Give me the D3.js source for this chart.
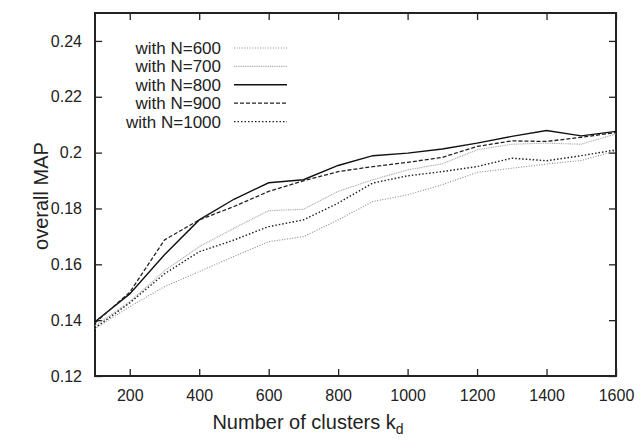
<!DOCTYPE html>
<html>
<head>
<meta charset="utf-8">
<script src="https://cdn.jsdelivr.net/npm/d3@7"></script>
<style>
  body { margin: 0; background: #fff; }
  text { font-family: "Liberation Sans", Arial, sans-serif; fill: #222; }
</style>
</head>
<body>
<div id="chart"></div>
<script>
// Data
const clusters = [100, 200, 300, 400, 500, 600, 700, 800, 900, 1000, 1100, 1200, 1300, 1400, 1500, 1600];
const seriesNames = ['with N=600', 'with N=700', 'with N=800', 'with N=900', 'with N=1000'];
const mapN600 = [0.1370, 0.1448, 0.1520, 0.1574, 0.1628, 0.1681, 0.1699, 0.1759, 0.1825, 0.1849, 0.1885, 0.1929, 0.1944, 0.1959, 0.1972, 0.2006];
const mapN700 = [0.1380, 0.1466, 0.1577, 0.1663, 0.1729, 0.1792, 0.1797, 0.1861, 0.1903, 0.1938, 0.1960, 0.2010, 0.2030, 0.2034, 0.2030, 0.2067];
const mapN800 = [0.1394, 0.1494, 0.1634, 0.1759, 0.1833, 0.1892, 0.1903, 0.1954, 0.1989, 0.1998, 0.2013, 0.2034, 0.2058, 0.2079, 0.2060, 0.2076];
const mapN900 = [0.1390, 0.1500, 0.1687, 0.1759, 0.1807, 0.1861, 0.1899, 0.1932, 0.1950, 0.1965, 0.1983, 0.2022, 0.2042, 0.2040, 0.2055, 0.2072];
const mapN1000 = [0.1372, 0.1462, 0.1566, 0.1645, 0.1687, 0.1735, 0.1759, 0.1819, 0.1891, 0.1917, 0.1932, 0.1950, 0.1980, 0.1971, 0.1989, 0.2010];
const xTicks = [200, 400, 600, 800, 1000, 1200, 1400, 1600];
const yTicks = [0.12, 0.14, 0.16, 0.18, 0.2, 0.22, 0.24];

const allSeries = [mapN600, mapN700, mapN800, mapN900, mapN1000];
// line styles per series (gnuplot-ish)
const styles = [
  { stroke: '#8a8a8a', width: 1.1, dash: '1,1.6' },
  { stroke: '#a8a8a8', width: 1.1, dash: '1,0.8' },
  { stroke: '#111', width: 1.4, dash: null },
  { stroke: '#222', width: 1.3, dash: '4,2' },
  { stroke: '#222', width: 1.4, dash: '1.5,2' },
];

// Dimensions
let dimensions = {
  width: 644,
  height: 442,
  margin: { top: 13, bottom: 66, left: 95, right: 28 }
};
dimensions.ctrWidth = dimensions.width - dimensions.margin.left - dimensions.margin.right;
dimensions.ctrHeight = dimensions.height - dimensions.margin.top - dimensions.margin.bottom;

const svg = d3.select('#chart')
  .append('svg')
  .attr('width', dimensions.width)
  .attr('height', dimensions.height);

const ctr = svg.append('g')
  .attr('transform', `translate(${dimensions.margin.left},${dimensions.margin.top})`);

// Scales
const xScale = d3.scaleLinear()
  .domain([100, 1600])
  .range([0, dimensions.ctrWidth]);

const yScale = d3.scaleLinear()
  .domain([0.12, 0.25])
  .range([dimensions.ctrHeight, 0]);

// Axes (ticks inward, mirrored on top/right)
const tickLen = 7;
const xAxis = d3.axisBottom(xScale).tickValues(xTicks).tickSizeInner(-tickLen).tickSizeOuter(0).tickPadding(14).tickFormat(d3.format('d'));
const yAxis = d3.axisLeft(yScale).tickValues(yTicks).tickSizeInner(-tickLen).tickSizeOuter(0).tickPadding(13).tickFormat(d => d3.format('')(+d.toFixed(2)));
const xTop = d3.axisTop(xScale).tickValues(xTicks).tickSizeInner(-tickLen).tickSizeOuter(0).tickFormat('');
const yRight = d3.axisRight(yScale).tickValues(yTicks).tickSizeInner(-tickLen).tickSizeOuter(0).tickFormat('');

const gx = ctr.append('g').attr('transform', `translate(0,${dimensions.ctrHeight})`).call(xAxis);
const gy = ctr.append('g').call(yAxis);
const gt = ctr.append('g').call(xTop);
const gr = ctr.append('g').attr('transform', `translate(${dimensions.ctrWidth},0)`).call(yRight);

[gx, gy, gt, gr].forEach(g => {
  g.select('.domain').remove();
  g.selectAll('.tick line').attr('stroke', '#222').attr('stroke-width', 1.3);
  g.selectAll('.tick text').attr('font-size', 16).attr('fill', '#222')
    .style('font-family', '"Liberation Sans", Arial, sans-serif');
});

// Frame
ctr.append('rect')
  .attr('x', 0).attr('y', 0)
  .attr('width', dimensions.ctrWidth)
  .attr('height', dimensions.ctrHeight)
  .attr('fill', 'none')
  .attr('stroke', '#222')
  .attr('stroke-width', 2);

// Lines
const line = d3.line()
  .x((d, i) => xScale(clusters[i]))
  .y(d => yScale(d));

ctr.selectAll('path.series')
  .data(allSeries)
  .join('path')
  .attr('class', 'series')
  .attr('d', line)
  .attr('fill', 'none')
  .attr('stroke', (d, i) => styles[i].stroke)
  .attr('stroke-width', (d, i) => styles[i].width)
  .attr('stroke-dasharray', (d, i) => styles[i].dash);

// Legend
const legend = svg.append('g');
const legendRows = legend.selectAll('g')
  .data(seriesNames)
  .join('g')
  .attr('transform', (d, i) => `translate(0,${48 + i * 18.4})`);

legendRows.append('text')
  .attr('x', 221)
  .attr('dy', '0.35em')
  .attr('text-anchor', 'end')
  .attr('font-size', 17)
  .text(d => d);

legendRows.append('line')
  .attr('x1', 234).attr('x2', 287)
  .attr('y1', 0).attr('y2', 0)
  .attr('stroke', (d, i) => styles[i].stroke)
  .attr('stroke-width', (d, i) => styles[i].width)
  .attr('stroke-dasharray', (d, i) => styles[i].dash);

// Axis titles
const xTitle = svg.append('text')
  .attr('x', 308)
  .attr('y', 429)
  .attr('text-anchor', 'middle')
  .attr('font-size', 20);
xTitle.append('tspan').text('Number of clusters k');
xTitle.append('tspan').attr('font-size', 14).attr('dy', 5).text('d');

svg.append('text')
  .attr('transform', 'translate(48,196) rotate(-90)')
  .attr('text-anchor', 'middle')
  .attr('font-size', 20)
  .text('overall MAP');
</script>
</body>
</html>
